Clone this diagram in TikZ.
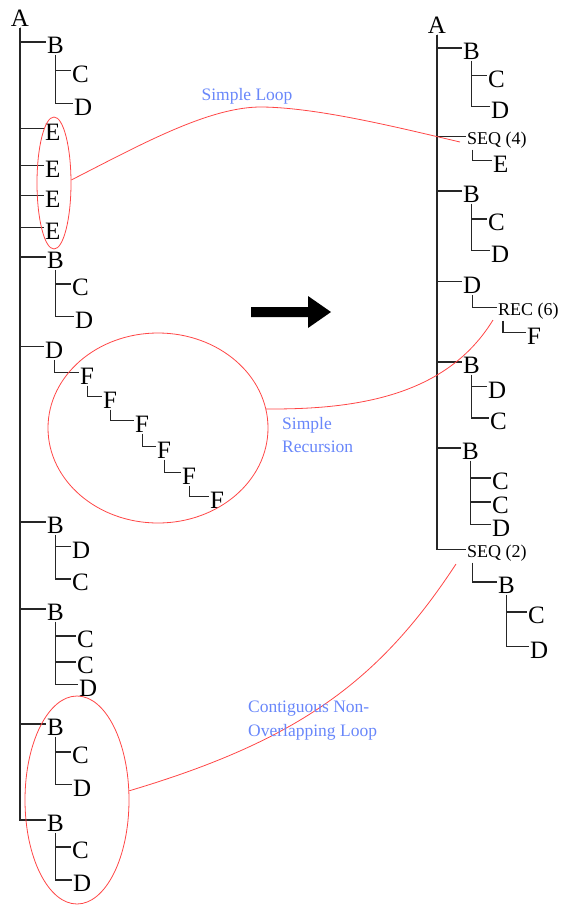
\documentclass[tikz,border=0pt]{standalone}
\usepackage{fontspec}
\setmainfont{Liberation Serif}
\usetikzlibrary{shapes.geometric}
\definecolor{loopred}{RGB}{255,70,70}
\definecolor{labelblue}{RGB}{105,135,250}
\tikzset{
  lt/.style={anchor=base west,inner sep=1.5pt,font=\fontsize{25}{29}\selectfont},
  st/.style={anchor=base west,inner sep=1.5pt,font=\fontsize{18}{22}\selectfont},
  tl/.style={line width=1.3pt,black!85},
  loopell/.style={draw=loopred,line width=0.8pt,ellipse,inner sep=0pt},
  rl/.style={draw=loopred,line width=0.8pt},
  lbl/.style={text=labelblue,inner sep=0pt,font=\fontsize{17.5}{23.5}\selectfont,align=left}
}
\newcommand\ltn[4]{\node[lt] (#1) at (#2-1.5,#3+8) {#4};}
\newcommand\stn[4]{\node[st] (#1) at (#2-1.5,#3+6) {#4};}
\newcommand\tk[2]{\draw[tl] (#1) |- ([yshift=3pt]#2.west);}
\begin{document}
\begin{tikzpicture}[x=1pt,y=-1pt]
\useasboundingbox (0,0) rectangle (565,911);
% ---------- left tree ----------
\node[lt,anchor=base] (LA) at (20,26) {A};
\ltn{LB1}{47}{45}{B} \ltn{LC1}{72}{74}{C} \ltn{LD1}{74}{107}{D}
\ltn{LE1}{45}{132}{E} \ltn{LE2}{45}{169}{E} \ltn{LE3}{45}{199}{E} \ltn{LE4}{45}{231}{E}
\ltn{LB2}{47}{260}{B} \ltn{LC2}{72}{287}{C} \ltn{LD2}{75}{320}{D}
\ltn{LD3}{45}{350}{D}
\ltn{LF1}{80}{376}{F} \ltn{LF2}{103}{400}{F} \ltn{LF3}{135}{424}{F}
\ltn{LF4}{157}{450}{F} \ltn{LF5}{182}{476}{F} \ltn{LF6}{210}{500}{F}
\ltn{LB3}{47}{525}{B} \ltn{LD4}{72}{550}{D} \ltn{LC4}{72}{582}{C}
\ltn{LB4}{47}{612}{B} \ltn{LC5}{77}{639}{C} \ltn{LC6}{77}{665}{C} \ltn{LD5}{79}{688}{D}
\ltn{LB5}{47}{727}{B} \ltn{LC7}{72}{755}{C} \ltn{LD6}{73}{788}{D}
\ltn{LB6}{47}{823}{B} \ltn{LC8}{72}{850}{C} \ltn{LD7}{73}{883}{D}
\foreach \c in {LB1,LE1,LE2,LE3,LE4,LB2,LD3,LB3,LB4,LB5,LB6} {\tk{LA.south}{\c}}
\tk{LB1.south}{LC1} \tk{LB1.south}{LD1}
\tk{LB2.south}{LC2} \tk{LB2.south}{LD2}
\tk{LD3.south}{LF1} \tk{LF1.south}{LF2} \tk{LF2.south}{LF3}
\tk{LF3.south}{LF4} \tk{LF4.south}{LF5} \tk{LF5.south}{LF6}
\tk{LB3.south}{LD4} \tk{LB3.south}{LC4}
\tk{LB4.south}{LC5} \tk{LB4.south}{LC6} \tk{LB4.south}{LD5}
\tk{LB5.south}{LC7} \tk{LB5.south}{LD6}
\tk{LB6.south}{LC8} \tk{LB6.south}{LD7}
% ---------- right tree ----------
\node[lt,anchor=base] (RA) at (437,33) {A};
\ltn{RB1}{463}{51}{B} \ltn{RC1}{488}{79}{C} \ltn{RD1}{491}{110}{D}
\stn{RS4}{467}{138}{SEQ (4)} \ltn{RE1}{493}{164}{E}
\ltn{RB2}{463}{194}{B} \ltn{RC2}{488}{222}{C} \ltn{RD2}{491}{254}{D}
\ltn{RD3}{463}{285}{D} \stn{RR6}{498}{309}{REC (6)} \ltn{RF1}{527}{336}{F}
\ltn{RB3}{463}{365}{B} \ltn{RD4}{488}{390}{D} \ltn{RC3}{490}{421}{C}
\ltn{RB4}{462}{451}{B} \ltn{RC4}{492}{481}{C} \ltn{RC5}{492}{505}{C} \ltn{RD5}{492}{528}{D}
\stn{RS2}{467}{551}{SEQ (2)} \ltn{RB5}{498}{585}{B}
\ltn{RC6}{528}{615}{C} \ltn{RD6}{530}{650}{D}
\foreach \c in {RB1,RS4,RB2,RD3,RB3,RB4,RS2} {\tk{RA.south}{\c}}
\tk{RB1.south}{RC1} \tk{RB1.south}{RD1}
\tk{[xshift=7pt]RS4.south west}{RE1}
\tk{RB2.south}{RC2} \tk{RB2.south}{RD2}
\tk{RD3.south}{RR6}
\tk{[xshift=6.5pt]RR6.south west}{RF1}
\tk{RB3.south}{RD4} \tk{RB3.south}{RC3}
\tk{RB4.south}{RC4} \tk{RB4.south}{RC5} \tk{RB4.south}{RD5}
\tk{[xshift=7pt]RS2.south west}{RB5}
\tk{RB5.south}{RC6} \tk{RB5.south}{RD6}
% ---------- big arrow ----------
\fill[black] (251,307) -- (308,307) -- (308,296) -- (331,312) -- (308,328) -- (308,317) -- (251,317) -- cycle;
% ---------- loops ----------
\node[loopell,minimum width=34pt,minimum height=132pt] (L1) at (54,183) {};
\node[loopell,minimum width=220pt,minimum height=190pt] (L2) at (158,428) {};
\node[loopell,minimum width=104pt,minimum height=208pt] (L3) at (77,800) {};
\coordinate (e1) at (460,142);
\coordinate (m1) at (263,107);
\coordinate (e2) at (493,320);
\coordinate (e3) at (456,564);
\draw[rl] (L1.10) .. controls (140,145) and (210,106) .. (m1)
  .. controls (320,108) and (400,128) .. (e1);
\draw[rl] (L2.10) .. controls (370,410) and (450,390) .. (e2);
\draw[rl] (L3.10) .. controls (300,740) and (380,680) .. (e3);
% ---------- labels ----------
\node[lbl] (T1) at (247,96) {Simple Loop};
\node[lbl,anchor=north west] (T2) at (282,417) {Simple\\Recursion};
\node[lbl,anchor=north west] (T3) at (248,701) {Contiguous Non-\\Overlapping Loop};
\end{tikzpicture}
\end{document}
